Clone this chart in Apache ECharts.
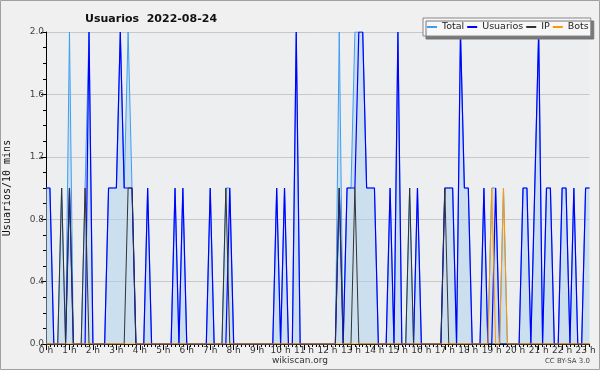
<!DOCTYPE html>
<html><head><meta charset="utf-8">
<script src="https://cdn.jsdelivr.net/npm/echarts@6/dist/echarts.min.js"></script>
<style>html,body{margin:0;padding:0;background:#f0f0f0}#c{width:600px;height:370px}</style>
</head><body><div id="c"></div>
<script>
// 10-minute slots, 0:00 .. 23:10
const hourLabels = ["0 h","1 h","2 h","3 h","4 h","5 h","6 h","7 h","8 h","9 h","10 h","11 h","12 h","13 h","14 h","15 h","16 h","17 h","18 h","19 h","20 h","21 h","22 h","23 h"];
const yTicks = [0.0, 0.4, 0.8, 1.2, 1.6, 2.0];

const total = [
 1,1,0,0,1,0,2,0,0,0,1,2,
 0,0,0,0,1,1,1,2,1,2,1,0,
 0,0,1,0,0,0,0,0,0,1,0,1,
 0,0,0,0,0,0,1,0,0,0,1,1,
 0,0,0,0,0,0,0,0,0,0,0,1,
 0,1,0,0,2,0,0,0,0,0,0,0,
 0,0,0,2,0,1,1,2,2,2,1,1,
 1,0,0,0,1,0,2,0,0,1,0,1,
 0,0,0,0,0,0,1,1,1,0,2,1,
 1,0,0,0,1,0,1,1,0,1,0,0,
 0,0,1,1,0,1,2,0,1,1,0,0,
 1,1,0,1,0,0,1,1
];
const usuarios = [
 1,1,0,0,0,0,1,0,0,0,0,2,
 0,0,0,0,1,1,1,2,1,1,1,0,
 0,0,1,0,0,0,0,0,0,1,0,1,
 0,0,0,0,0,0,1,0,0,0,0,1,
 0,0,0,0,0,0,0,0,0,0,0,1,
 0,1,0,0,2,0,0,0,0,0,0,0,
 0,0,0,1,0,1,1,1,2,2,1,1,
 1,0,0,0,1,0,2,0,0,0,0,1,
 0,0,0,0,0,0,1,1,1,0,2,1,
 1,0,0,0,1,0,0,1,0,0,0,0,
 0,0,1,1,0,1,2,0,1,1,0,0,
 1,1,0,1,0,0,1,1
];
const ip = [
 0,0,0,0,1,0,1,0,0,0,1,0,
 0,0,0,0,0,0,0,0,0,1,1,0,
 0,0,0,0,0,0,0,0,0,0,0,0,
 0,0,0,0,0,0,0,0,0,0,1,0,
 0,0,0,0,0,0,0,0,0,0,0,0,
 0,0,0,0,0,0,0,0,0,0,0,0,
 0,0,0,1,0,0,0,1,0,0,0,0,
 0,0,0,0,0,0,0,0,0,1,0,0,
 0,0,0,0,0,0,1,0,0,0,0,0,
 0,0,0,0,0,0,0,0,0,0,0,0,
 0,0,0,0,0,0,0,0,0,0,0,0,
 0,0,0,0,0,0,0,0
];
const bots = [
 0,0,0,0,0,0,0,0,0,0,0,0,
 0,0,0,0,0,0,0,0,0,0,0,0,
 0,0,0,0,0,0,0,0,0,0,0,0,
 0,0,0,0,0,0,0,0,0,0,0,0,
 0,0,0,0,0,0,0,0,0,0,0,0,
 0,0,0,0,0,0,0,0,0,0,0,0,
 0,0,0,0,0,0,0,0,0,0,0,0,
 0,0,0,0,0,0,0,0,0,0,0,0,
 0,0,0,0,0,0,0,0,0,0,0,0,
 0,0,0,0,0,0,1,0,0,1,0,0,
 0,0,0,0,0,0,0,0,0,0,0,0,
 0,0,0,0,0,0,0,0
];

const slots = total.map((_, i) => {
  const m = i * 10;
  return String(Math.floor(m / 60)).padStart(2, '0') + ':' + String(m % 60).padStart(2, '0');
});

const chart = echarts.init(document.getElementById('c'), null, {renderer: 'canvas'});
const FONT = 'DejaVu Sans';
chart.setOption({
  backgroundColor: '#f0f0f0',
  animation: false,
  title: {
    text: 'Usuarios  2022-08-24', left: 80, top: 9,
    textStyle: {fontFamily: FONT, fontSize: 11, fontWeight: 'bold', color: '#111'}
  },
  legend: {
    data: ['Total', 'Usuarios', 'IP', 'Bots'],
    left: 423, top: 18, padding: [4, 2, 4, 3], itemGap: 2,
    itemWidth: 10, itemHeight: 2,
    backgroundColor: '#f7f7f7', borderColor: '#888', borderWidth: 1,
    shadowColor: '#777', shadowOffsetX: 3, shadowOffsetY: 3, shadowBlur: 0,
    textStyle: {fontFamily: FONT, fontSize: 9.5, color: '#222'}
  },
  grid: {left: 46, right: 10.5, top: 32, bottom: 26, show: true, backgroundColor: '#eceef0', borderWidth: 0,
         containLabel: false, outerBoundsMode: 'none'},
  xAxis: [{
    type: 'category', data: slots, boundaryGap: false,
    axisLine: {lineStyle: {color: '#000', width: 1}},
    axisTick: {interval: 0, length: 3, lineStyle: {color: '#000'}},
    axisLabel: {show: false}, splitLine: {show: false}
  }, {
    type: 'category', data: slots, boundaryGap: false, position: 'bottom',
    axisLine: {show: false},
    axisTick: {interval: 5, length: 6, lineStyle: {color: '#000'}},
    axisLabel: {interval: 5, fontFamily: FONT, fontSize: 9, color: '#333', margin: 2,
      formatter: (v, idx) => hourLabels[Math.round(idx / 6)]},
    splitLine: {show: false}
  }],
  yAxis: {
    type: 'value', min: yTicks[0], max: yTicks[yTicks.length - 1], interval: 0.4,
    name: 'Usuarios/10 mins', nameLocation: 'middle', nameGap: 34,
    nameTextStyle: {fontFamily: 'DejaVu Sans Mono', fontSize: 10, color: '#111'},
    axisLine: {show: true, lineStyle: {color: '#000'}},
    axisTick: {show: true, length: 5, lineStyle: {color: '#000'}},
    minorTick: {show: true, splitNumber: 4, length: 3, lineStyle: {color: '#000'}},
    axisLabel: {fontFamily: FONT, fontSize: 9, color: '#444', margin: 2, formatter: v => v.toFixed(1)},
    splitLine: {lineStyle: {color: '#c8c8c8', width: 1}}
  },
  series: [
    {name: 'Total', type: 'line', data: total, symbol: 'none', z: 2,
     lineStyle: {color: '#3d9df0', width: 1}, itemStyle: {color: '#3d9df0'},
     areaStyle: {color: 'rgba(172,208,238,0.7)'}},
    {name: 'Usuarios', type: 'line', data: usuarios, symbol: 'none', z: 3,
     lineStyle: {color: '#0000ff', width: 1.2}, itemStyle: {color: '#0000ff'}},
    {name: 'IP', type: 'line', data: ip, symbol: 'none', z: 4,
     lineStyle: {color: '#333333', width: 1}, itemStyle: {color: '#333333'}},
    {name: 'Bots', type: 'line', data: bots, symbol: 'none', z: 5,
     lineStyle: {color: '#ff9900', width: 1}, itemStyle: {color: '#ff9900'}}
  ],
  graphic: [
    {type: 'rect', shape: {x: 0.5, y: 0.5, width: 599, height: 369}, style: {fill: 'none', stroke: '#a0a0a0', lineWidth: 1}, silent: true},
    {type: 'text', left: 'center', top: 356, style: {text: 'wikiscan.org', font: '9px DejaVu Sans', fill: '#333'}},
    {type: 'text', right: 10, top: 358, style: {text: 'CC BY-SA 3.0', font: '7px DejaVu Sans', fill: '#444'}}
  ]
});
</script></body></html>
